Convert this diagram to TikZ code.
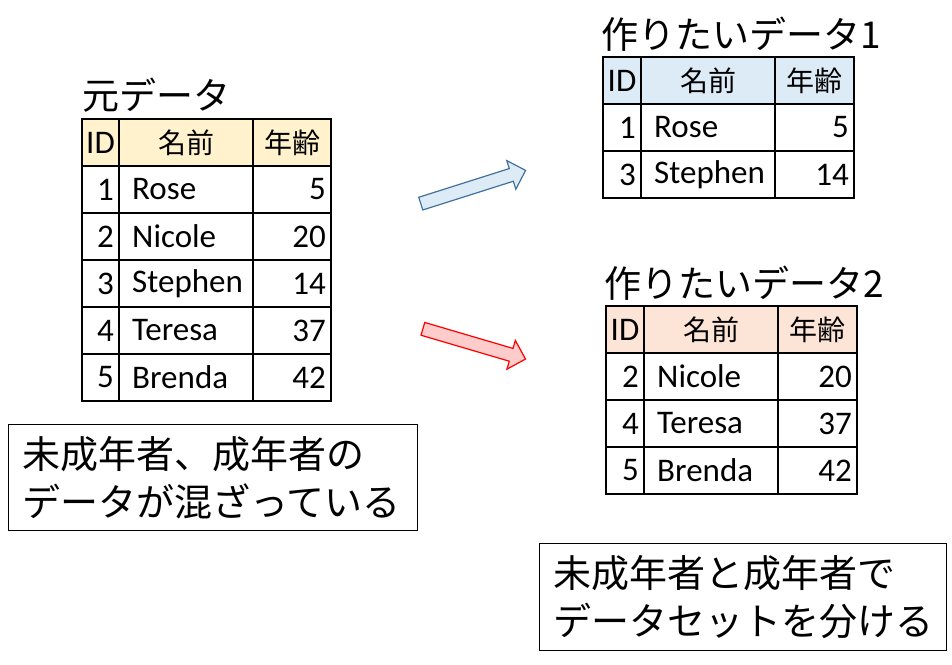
\documentclass[tikz,border=0pt]{standalone}
\usepackage{fontspec}
\setmainfont{Carlito}
\newfontfamily\jp{Noto Sans CJK JP}
\usetikzlibrary{shapes.arrows}
\definecolor{hy}{HTML}{FFF2CC}
\definecolor{hb}{HTML}{DDEBF7}
\definecolor{hr}{HTML}{FCE4D6}
\definecolor{bb}{HTML}{41719C}
\tikzset{
 cell/.style={draw=black, line width=1.2pt},
 txt/.style={font=\fontsize{33}{36}\selectfont, inner sep=0pt},
 ttl/.style={font=\jp\fontsize{37}{40}\selectfont, anchor=south west, inner sep=0pt},
 note/.style={draw=black, line width=1.2pt, font=\jp\fontsize{38}{48}\selectfont, align=left, anchor=north west, inner xsep=14pt, inner ysep=6pt},
 barrow/.style={single arrow, minimum height=#1, minimum width=30pt, single arrow head extend=7pt, inner sep=5pt, line width=1.2pt},
}
\newcommand{\mytbl}[9]{%
 \fill[#7] (#1,#5) rectangle (#4,#5+#6);
 \foreach \k in {0,...,#8}{\draw[cell] (#1,#5+\k*#6) rectangle (#4,#5+\k*#6+#6);}
 \draw[cell] (#2,#5) -- (#2,#5+#8*#6+#6);
 \draw[cell] (#3,#5) -- (#3,#5+#8*#6+#6);
 \node[txt] at ({(#1+#2)/2},#5+#6/2) {ID};
 \node[txt,font=\jp\fontsize{28}{30}\selectfont] at ({(#2+#3)/2},#5+#6/2) {名前};
 \node[txt,font=\jp\fontsize{28}{30}\selectfont] at ({(#3+#4)/2},#5+#6/2) {年齢};
 \foreach \a/\b/\c [count=\i] in {#9}{
  \node[txt,anchor=east] at (#2-5,#5+\i*#6+#6/2) {\a};
  \node[txt,anchor=west] at (#2+13,#5+\i*#6+#6/2) {\b};
  \node[txt,anchor=east] at (#4-5,#5+\i*#6+#6/2) {\c};
 }}
\begin{document}
\begin{tikzpicture}[x=1pt,y=-1pt]
\useasboundingbox (0,0) rectangle (952,664);
\node[ttl] (t1) at (82,113) {元データ};
\mytbl{82}{119}{253}{331}{119}{47}{hy}{5}{1/Rose/5,2/Nicole/20,3/Stephen/14,4/Teresa/37,5/Brenda/42}
\node[ttl] (t2) at (601,52) {作りたいデータ1};
\mytbl{603}{641}{775}{854}{57}{47}{hb}{2}{1/Rose/5,3/Stephen/14}
\node[ttl] (t3) at (604,301) {作りたいデータ2};
\mytbl{606}{644}{778}{857}{306}{47}{hr}{3}{2/Nicole/20,4/Teresa/37,5/Brenda/42}
\node[barrow=110pt, draw=bb, fill=hb, rotate=17.6] (a1) at (470,188) {};
\node[barrow=107pt, draw=red, fill=red!20, rotate=-16.4] (a2) at (471,343) {};
\node[note, text width=381pt, minimum height=106pt] (n1) at (8,424) {未成年者、成年者の\\データが混ざっている};
\node[note, text width=379pt, minimum height=107pt] (n2) at (539,543) {未成年者と成年者で\\データセットを分ける};
\end{tikzpicture}
\end{document}
